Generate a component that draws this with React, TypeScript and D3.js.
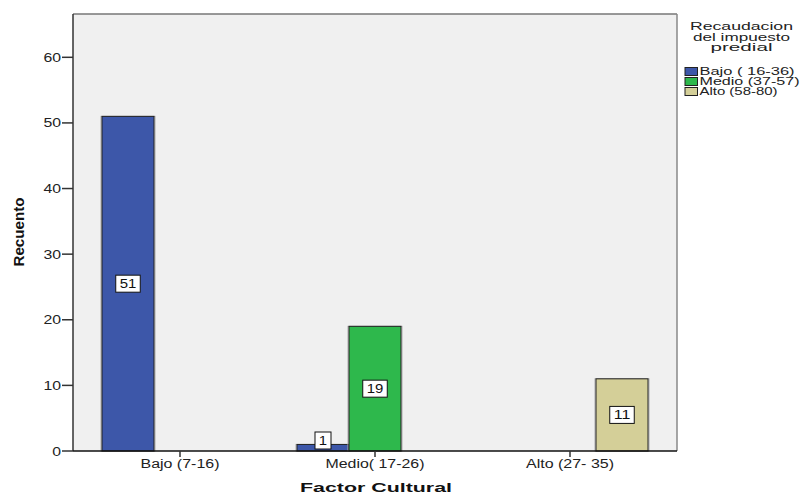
import React from "react";
import * as d3 from "d3";

const categories = ["Bajo (7-16)", "Medio( 17-26)", "Alto (27- 35)"];
const series = ["Bajo ( 16-36)", "Medio (37-57)", "Alto (58-80)"];
const bajoValues = [51, 1, 0];
const medioValues = [0, 19, 0];
const altoValues = [0, 0, 11];
const yTicks = [0, 10, 20, 30, 40, 50, 60];
const legendTitle = ["Recaudacion", "del impuesto", "predial"];
const xTitle = "Factor Cultural";
const yTitle = "Recuento";

const colors = ["#3d57a9", "#2eb84c", "#d4cf98"];
const seriesValues = [bajoValues, medioValues, altoValues];

const W = 800, H = 495;
const L = 73, R = 677, T = 14, B = 451;
const font = "'Liberation Sans', Arial, sans-serif";

export default function App() {
  const x0 = d3.scaleBand<string>().domain(categories).range([L, R]).paddingInner(0.2).paddingOuter(0.1487);
  const x1 = d3.scaleBand<string>().domain(series).range([0, x0.bandwidth()]);
  const y = d3.scaleLinear().domain([0, 66.6]).range([B, T]);

  const bars: any[] = [];
  categories.forEach((c, ci) => {
    series.forEach((s, si) => {
      const v = seriesValues[si][ci];
      if (v > 0) bars.push({ c, s, si, v });
    });
  });

  const tickLabelWidths = [79, 99, 88];

  return (
    <svg width={W} height={H} style={{ position: "absolute", left: 0, top: 0, background: "#fff" }} fontFamily={font}>
      <rect x={L} y={T} width={R - L} height={B - T} fill="#f0f0f0" />
      <line x1={L} y1={T} x2={R} y2={T} stroke="#777" strokeWidth={1.5} />
      <line x1={R} y1={T} x2={R} y2={B} stroke="#888" strokeWidth={1.5} />
      {bars.map((b, i) => {
        const bx = (x0(b.c) as number) + (x1(b.s) as number);
        const bw = x1.bandwidth();
        const by = y(b.v);
        return (
          <g key={i}>
            <rect x={bx - 1} y={by} width={bw + 2} height={B - by} fill="none" stroke="#aaa" strokeWidth={1} />
            <rect x={bx} y={by} width={bw} height={B - by} fill={colors[b.si]} stroke="#222" strokeWidth={1} />
          </g>
        );
      })}
      {bars.map((b, i) => {
        const cx = (x0(b.c) as number) + (x1(b.s) as number) + x1.bandwidth() / 2;
        const mid = (y(b.v) + B) / 2;
        const cy = Math.min(mid, B - 10.5);
        const txt = String(b.v);
        const bw = txt.length * 8.5 + 7.5;
        return (
          <g key={"l" + i}>
            <rect x={cx - bw / 2} y={cy - 8.5} width={bw} height={17} fill="#fff" stroke="#111" strokeWidth={1} />
            <text x={cx} y={cy + 4.5} textAnchor="middle" fontSize={12} fill="#111" textLength={txt.length * 8.3} lengthAdjust="spacingAndGlyphs">{txt}</text>
          </g>
        );
      })}
      <line x1={L} y1={T} x2={L} y2={B} stroke="#333" strokeWidth={1.5} />
      <line x1={L} y1={B} x2={R} y2={B} stroke="#111" strokeWidth={1.5} />
      {yTicks.map((t) => (
        <g key={t}>
          <line x1={L - 11} x2={L} y1={y(t)} y2={y(t)} stroke="#333" strokeWidth={1.5} />
          <text x={L - 12} y={y(t) + 4.5} textAnchor="end" fontSize={12} fill="#222" textLength={String(t).length * 8.8} lengthAdjust="spacingAndGlyphs">{t}</text>
        </g>
      ))}
      {categories.map((c, i) => {
        const cx = (x0(c) as number) + x0.bandwidth() / 2;
        return (
          <g key={c}>
            <line x1={cx} x2={cx} y1={B} y2={B + 6} stroke="#333" strokeWidth={1.5} />
            <text x={cx} y={468} textAnchor="middle" fontSize={12} fill="#222" textLength={tickLabelWidths[i]} lengthAdjust="spacingAndGlyphs">{c}</text>
          </g>
        );
      })}
      <text x={376} y={492} textAnchor="middle" fontSize={13} fontWeight="bold" fill="#111" textLength={152} lengthAdjust="spacingAndGlyphs">{xTitle}</text>
      <text transform="translate(24,232) rotate(-90)" textAnchor="middle" fontSize={14} fontWeight="bold" fill="#111" textLength={69} lengthAdjust="spacingAndGlyphs">{yTitle}</text>
      {legendTitle.map((t, i) => (
        <text key={t} x={741.5} y={30 + i * 10.5} textAnchor="middle" fontSize={11} fill="#222" textLength={[103, 97, 62][i]} lengthAdjust="spacingAndGlyphs">{t}</text>
      ))}
      {series.map((s, i) => (
        <g key={s}>
          <rect x={685} y={67.5 + i * 10} width={12.5} height={8} fill={colors[i]} stroke="#222" strokeWidth={1} />
          <text x={699.5} y={75.3 + i * 10} fontSize={10} fill="#222" textLength={[95, 100, 78][i]} lengthAdjust="spacingAndGlyphs">{s}</text>
        </g>
      ))}
    </svg>
  );
}
